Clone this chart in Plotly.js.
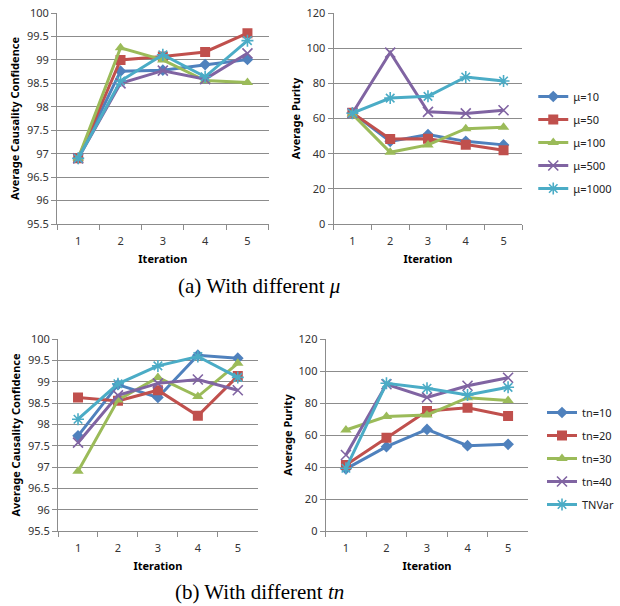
<!DOCTYPE html>
<html>
<head>
<meta charset="utf-8">
<script src="https://cdn.plot.ly/plotly-3.0.1.min.js"></script>
<style>html,body{margin:0;padding:0;background:#fff;}#chart{width:620px;height:606px;}</style>
</head>
<body>
<div id="chart"></div>
<script>
const iterations = ["1", "2", "3", "4", "5"];

// (a) different mu
const muNames = ["μ=10", "μ=50", "μ=100", "μ=500", "μ=1000"];
const confMu10   = [96.9, 98.76, 98.78, 98.9, 99.01];
const confMu50   = [96.9, 99.0, 99.07, 99.17, 99.57];
const confMu100  = [96.9, 99.26, 99.0, 98.56, 98.52];
const confMu500  = [96.9, 98.5, 98.77, 98.59, 99.14];
const confMu1000 = [96.9, 98.55, 99.11, 98.64, 99.41];

const purMu10   = [63.2, 47, 50.9, 47, 45];
const purMu50   = [63.2, 48.4, 48.5, 45.1, 41.9];
const purMu100  = [62.5, 40.8, 45, 54.2, 55];
const purMu500  = [63, 97.5, 63.8, 62.9, 64.7];
const purMu1000 = [63, 71.6, 72.6, 83.6, 81.3];

// (b) different tn
const tnNames = ["tn=10", "tn=20", "tn=30", "tn=40", "TNVar"];
const confTn10  = [97.73, 98.93, 98.63, 99.62, 99.55];
const confTn20  = [98.63, 98.55, 98.8, 98.2, 99.13];
const confTn30  = [96.9, 98.57, 99.1, 98.65, 99.43];
const confTn40  = [97.57, 98.68, 98.96, 99.05, 98.8];
const confTnVar = [98.12, 98.95, 99.37, 99.59, 99.1];

const purTn10  = [38.8, 52.7, 63.5, 53.3, 54.2];
const purTn20  = [41.3, 58.3, 75, 77, 71.9];
const purTn30  = [63.1, 71.5, 72.5, 83.3, 81.5];
const purTn40  = [47.5, 91.7, 83.5, 90.8, 95.8];
const purTnVar = [39.2, 92.3, 89.2, 85, 89.8];

const colors = ["#4F81BD", "#C0504D", "#9BBB59", "#8064A2", "#4BACC6"];
const symbols = ["diamond", "square", "triangle-up", "x-thin-open", "asterisk-open"];
const sizes = [9, 10, 10, 10, 10];

function mk(y, i, name, xa, ya, legend, show) {
  const open = symbols[i].endsWith("open");
  return {
    x: iterations, y: y, name: name, type: "scatter", mode: "lines+markers",
    xaxis: xa, yaxis: ya, legend: legend, showlegend: show, legendgroup: legend + name,
    line: {color: colors[i], width: 3},
    marker: {symbol: symbols[i], size: sizes[i], color: colors[i],
             line: {color: colors[i], width: open ? 1.6 : 0}}
  };
}

const data = [];
[confMu10, confMu50, confMu100, confMu500, confMu1000].forEach((y, i) => data.push(mk(y, i, muNames[i], "x", "y", "legend", false)));
[purMu10, purMu50, purMu100, purMu500, purMu1000].forEach((y, i) => data.push(mk(y, i, muNames[i], "x2", "y2", "legend", true)));
[confTn10, confTn20, confTn30, confTn40, confTnVar].forEach((y, i) => data.push(mk(y, i, tnNames[i], "x3", "y3", "legend2", false)));
[purTn10, purTn20, purTn30, purTn40, purTnVar].forEach((y, i) => data.push(mk(y, i, tnNames[i], "x4", "y4", "legend2", true)));

const tickFont = {family: "Noto Sans, Open Sans, sans-serif", size: 11, color: "#333"};
const titleFont = {family: "Noto Sans, Open Sans, sans-serif", size: 11, color: "#000", weight: "bold"};
const grid = "#8c8c8c";

function xax(dom, anchor) {
  return {domain: dom, anchor: anchor, type: "category", range: [-0.5, 4.5],
    tickson: "boundaries", ticks: "outside", ticklen: 5, tickcolor: grid,
    ticklabelstandoff: 7,
    showline: true, linecolor: grid, linewidth: 1, showgrid: false, zeroline: false,
    tickfont: tickFont, fixedrange: true,
    title: {text: "<b>Iteration</b>", font: titleFont, standoff: 8}};
}
function yax(dom, anchor, range, dtick, title, standoff) {
  return {domain: dom, anchor: anchor, range: range, dtick: dtick,
    ticks: "outside", ticklen: 5, tickcolor: grid,
    showline: true, linecolor: grid, linewidth: 1, showgrid: true, gridcolor: grid, gridwidth: 1,
    zeroline: false, tickfont: tickFont, fixedrange: true,
    title: {text: "<b>" + title + "</b>", font: titleFont, standoff: standoff}};
}

const layout = {
  width: 620, height: 606,
  margin: {l: 0, r: 0, t: 0, b: 0},
  paper_bgcolor: "#fff", plot_bgcolor: "#fff",
  showlegend: true,
  xaxis:  xax([58/620, 273/620], "y"),
  yaxis:  yax([1 - 224/606, 1 - 13/606], "x", [95.5, 100], 0.5, "Average Causality Confidence", 5),
  xaxis2: xax([339/620, 531/620], "y2"),
  yaxis2: yax([1 - 224/606, 1 - 13/606], "x2", [0, 120], 20, "Average Purity", 3),
  xaxis3: xax([59/620, 262/620], "y3"),
  yaxis3: yax([1 - 531/606, 1 - 339/606], "x3", [95.5, 100], 0.5, "Average Causality Confidence", 5),
  xaxis4: xax([331/620, 537/620], "y4"),
  yaxis4: yax([1 - 531/606, 1 - 339/606], "x4", [0, 120], 20, "Average Purity", 3),
  legend: {x: 542/620, xanchor: "left", y: 1 - 82/606, yanchor: "top",
    font: {family: "Noto Sans, Open Sans, sans-serif", size: 11, color: "#222"},
    bgcolor: "rgba(0,0,0,0)", tracegroupgap: 4, itemclick: false},
  legend2: {x: 551/620, xanchor: "left", y: 1 - 398/606, yanchor: "top",
    font: {family: "Noto Sans, Open Sans, sans-serif", size: 11, color: "#222"},
    bgcolor: "rgba(0,0,0,0)", tracegroupgap: 4, itemclick: false},
  annotations: [
    {text: "(a) With different <i>μ</i>", xref: "paper", yref: "paper", x: 263/620, y: 1 - 286/606,
     xanchor: "center", yanchor: "middle", showarrow: false,
     font: {family: "Liberation Serif, serif", size: 21, color: "#000"}},
    {text: "(b) With different <i>tn</i>", xref: "paper", yref: "paper", x: 264/620, y: 1 - 592/606,
     xanchor: "center", yanchor: "middle", showarrow: false,
     font: {family: "Liberation Serif, serif", size: 21, color: "#000"}}
  ]
};

Plotly.newPlot("chart", data, layout, {staticPlot: true, displayModeBar: false});
</script>
</body>
</html>
